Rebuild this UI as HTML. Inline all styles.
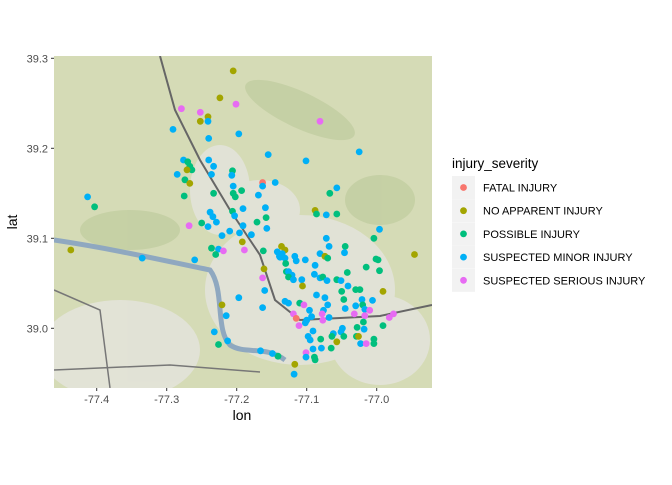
<!DOCTYPE html>
<html><head><meta charset="utf-8">
<style>
body{margin:0;background:#fff;}
svg text{font-family:"Liberation Sans",sans-serif;}
</style></head>
<body>
<svg id="chart" width="672" height="480" xmlns="http://www.w3.org/2000/svg">
<defs><clipPath id="pc"><rect x="54" y="56" width="378" height="332"/></clipPath></defs>
<g id="panel" clip-path="url(#pc)">
  <rect x="54" y="56" width="378" height="332" fill="#d5dbb6"/>
  <g fill="#e4e4dc" opacity="0.85">
    <ellipse cx="300" cy="290" rx="95" ry="75"/>
    <ellipse cx="220" cy="190" rx="30" ry="45"/>
    <ellipse cx="120" cy="350" rx="80" ry="50"/>
    <ellipse cx="380" cy="340" rx="50" ry="45"/>
    <ellipse cx="260" cy="210" rx="40" ry="30"/>
  </g>
  <g fill="#bcc99a" opacity="0.6">
    <ellipse cx="300" cy="110" rx="60" ry="18" transform="rotate(25 300 110)"/>
    <ellipse cx="130" cy="230" rx="50" ry="20"/>
    <ellipse cx="380" cy="200" rx="35" ry="25"/>
  </g>
  <path d="M54 240 C120 250,170 262,210 270 C225 290,215 330,230 345 C245 355,265 345,285 360" stroke="#8fa8c0" stroke-width="5" fill="none"/>
  <path d="M160 56 L175 110 L200 160 L230 210 L260 255 L275 300 L300 320 L380 316 L432 305" stroke="#666" stroke-width="2" fill="none"/>
  <path d="M54 290 L100 310 L110 388 M54 370 L170 365 L260 372" stroke="#777" stroke-width="1.5" fill="none"/>
  <g id="points"></g>
</g>
<g id="axes"></g>
<text x="242" y="420" font-size="14" text-anchor="middle" fill="#000">lon</text>
<text x="17" y="222" font-size="14" text-anchor="middle" fill="#000" transform="rotate(-90 17 222)">lat</text>
<g id="legend">
  <text x="452" y="168" font-size="13.5" fill="#000">injury_severity</text>
</g>
</svg>
<script>
const categories = ["FATAL INJURY","NO APPARENT INJURY","POSSIBLE INJURY","SUSPECTED MINOR INJURY","SUSPECTED SERIOUS INJURY"];
const xTicks = [-77.4,-77.3,-77.2,-77.1,-77.0];
const yTicks = [39.0,39.1,39.2,39.3];
const xTickLabels = ["-77.4","-77.3","-77.2","-77.1","-77.0"];
const yTickLabels = ["39.0","39.1","39.2","39.3"];
const lon = [-77.205,-77.224,-77.201,-77.279,-77.252,-77.241,-77.252,-77.241,-77.291,-77.240,-77.276,-77.267,-77.270,-77.264,-77.240,-77.233,-77.271,-77.285,-77.206,-77.236,-77.207,-77.274,-77.267,-77.205,-77.233,-77.275,-77.205,-77.202,-77.413,-77.403,-77.206,-77.238,-77.234,-77.197,-77.268,-77.250,-77.241,-77.229,-77.203,-77.221,-77.210,-77.437,-77.335,-77.260,-77.236,-77.226,-77.219,-77.230,-77.197,-77.221,-77.215,-77.232,-77.213,-77.226,
-77.081,-77.155,-77.101,-77.025,-77.163,-77.163,-77.145,-77.193,-77.169,-77.057,-77.067,-77.191,-77.159,-77.088,-77.086,-77.072,-77.057,-77.158,
-77.191,-77.196,-77.179,-77.171,-77.157,-77.192,-77.189,-77.162,-77.136,-77.131,-77.142,-77.139,-77.135,-77.138,-77.131,-77.130,-77.117,-77.115,-77.102,-77.161,-77.163,-77.129,-77.126,-77.121,-77.126,-77.119,-77.107,-77.106,-77.160,-77.163,-77.131,-77.126,-77.110,-77.104,-77.096,-77.119,-77.115,-77.100,-77.093,-77.111,-77.102,-77.091,-77.098,-77.095,-77.080,-77.091,-77.079,-77.065,-77.101,-77.101,-77.089,-77.088,-77.117,-77.118,-77.141,-77.149,-77.166,
-77.072,-77.068,-77.045,-77.046,-77.081,-77.074,-77.070,-77.088,-77.089,-77.081,-77.077,-77.071,-77.057,-77.051,-77.042,-77.041,-77.050,-77.086,-77.074,-77.047,-77.070,-77.076,-77.078,-77.077,-77.068,-77.045,-77.030,-77.024,-77.021,-77.006,-77.020,-77.030,-77.017,-77.010,-77.032,-77.017,-77.019,-77.049,-77.051,-77.062,-77.064,-77.057,-77.047,-77.028,-77.018,-77.029,-77.026,-77.023,-77.015,-77.004,-77.004,-76.991,-76.991,-76.982,-76.976,-76.996,-77.004,-77.001,-76.998,-77.015,-76.996,-76.946];
const lat = [39.286,39.256,39.249,39.244,39.240,39.235,39.230,39.230,39.221,39.211,39.187,39.180,39.185,39.176,39.187,39.180,39.176,39.171,39.175,39.171,39.170,39.165,39.161,39.158,39.150,39.147,39.150,39.146,39.146,39.135,39.130,39.129,39.124,39.216,39.114,39.117,39.113,39.118,39.125,39.103,39.108,39.087,39.078,39.076,39.089,39.088,39.086,39.082,39.034,39.026,39.014,38.996,38.986,38.982,
39.230,39.193,39.186,39.196,39.162,39.158,39.162,39.153,39.148,39.156,39.150,39.133,39.134,39.131,39.127,39.126,39.127,39.123,
39.114,39.106,39.104,39.118,39.111,39.096,39.087,39.086,39.091,39.087,39.085,39.080,39.083,39.079,39.078,39.072,39.080,39.075,39.076,39.066,39.056,39.063,39.063,39.059,39.057,39.054,39.054,39.047,39.042,39.023,39.030,39.028,39.028,39.026,39.020,39.016,39.011,39.009,39.013,39.003,39.006,38.997,38.991,38.987,38.988,38.977,38.978,38.978,38.973,38.968,38.968,38.965,38.960,38.949,38.969,38.972,38.975,
39.100,39.091,39.091,39.084,39.083,39.080,39.078,39.070,39.060,39.056,39.057,39.053,39.054,39.053,39.062,39.047,39.041,39.037,39.034,39.032,39.026,39.020,39.016,39.009,39.012,39.022,39.043,39.043,39.032,39.031,39.026,39.025,39.021,39.020,39.016,39.014,39.007,39.000,38.996,38.994,38.991,38.985,38.991,39.001,38.999,38.991,38.991,38.983,38.983,38.988,38.983,39.003,39.041,39.012,39.016,39.110,39.100,39.077,39.076,39.068,39.064,39.082];
const severity = [1,1,4,4,4,1,1,3,3,3,3,2,2,2,3,3,1,3,2,3,3,2,1,3,2,2,2,2,3,2,2,3,3,3,4,2,3,3,3,3,3,1,3,3,2,3,4,2,3,1,3,3,3,2,
4,3,3,3,0,3,3,2,3,3,2,3,3,1,2,3,2,2,
3,3,3,2,3,1,4,2,1,1,3,3,3,3,3,2,3,3,3,1,4,2,3,3,2,3,3,1,3,3,3,3,2,4,3,4,0,3,3,4,3,3,3,3,2,3,3,2,4,3,2,2,1,3,2,3,3,
3,3,2,3,3,1,2,3,3,3,2,3,2,3,2,3,2,3,3,2,3,3,4,4,3,3,2,2,3,3,2,3,3,4,4,4,2,3,3,3,2,1,2,2,3,2,1,3,4,2,2,2,1,4,4,3,2,2,2,2,2,1];
const colors = ["#F8766D","#A3A500","#00BF7D","#00B0F6","#E76BF3"];
const NS="http://www.w3.org/2000/svg";
const xs = v => 96.7 + (v + 77.4) * 700;
const ys = v => 58.3 + (39.3 - v) * 900;
const pts = document.getElementById('points');
// draw by category order so later categories on top like ggplot row order approx
for (let i = 0; i < lon.length; i++) {
  const c = document.createElementNS(NS,'circle');
  c.setAttribute('cx', xs(lon[i])); c.setAttribute('cy', ys(lat[i])); c.setAttribute('r', 3.4);
  c.setAttribute('fill', colors[severity[i]]);
  
  
  pts.appendChild(c);
}
const ax = document.getElementById('axes');
xTicks.forEach((t,i) => {
  const l = document.createElementNS(NS,'line');
  l.setAttribute('x1', xs(t)); l.setAttribute('x2', xs(t)); l.setAttribute('y1', 388); l.setAttribute('y2', 391);
  l.setAttribute('stroke', '#333');
  
  
  ax.appendChild(l);
  const tx = document.createElementNS(NS,'text');
  tx.setAttribute('x', xs(t)); tx.setAttribute('y', 403); tx.setAttribute('font-size', '11');
  tx.setAttribute('text-anchor', 'middle'); tx.setAttribute('fill', '#4d4d4d');
  tx.textContent = xTickLabels[i];
  
  
  ax.appendChild(tx);
});
yTicks.forEach((t,i) => {
  const l = document.createElementNS(NS,'line');
  l.setAttribute('x1', 51); l.setAttribute('x2', 54); l.setAttribute('y1', ys(t)); l.setAttribute('y2', ys(t));
  l.setAttribute('stroke', '#333');
  
  
  ax.appendChild(l);
  const tx = document.createElementNS(NS,'text');
  tx.setAttribute('x', 48); tx.setAttribute('y', ys(t) + 4); tx.setAttribute('font-size', '11');
  tx.setAttribute('text-anchor', 'end'); tx.setAttribute('fill', '#4d4d4d');
  tx.textContent = yTickLabels[i];
  
  
  ax.appendChild(tx);
});
const lg = document.getElementById('legend');
categories.forEach((c,i) => {
  const y0 = 176 + i * 23.2;
  const r = document.createElementNS(NS,'rect');
  r.setAttribute('x', 452); r.setAttribute('y', y0); r.setAttribute('width', 23); r.setAttribute('height', 23); r.setAttribute('fill', '#f2f2f2');
  
  
  lg.appendChild(r);
  const d = document.createElementNS(NS,'circle');
  d.setAttribute('cx', 463.5); d.setAttribute('cy', y0 + 11.5); d.setAttribute('r', 3.4); d.setAttribute('fill', colors[i]);
  
  
  lg.appendChild(d);
  const t = document.createElementNS(NS,'text');
  t.setAttribute('x', 483); t.setAttribute('y', y0 + 15.5); t.setAttribute('font-size', '11'); t.setAttribute('fill', '#000');
  t.textContent = c;
  
  
  lg.appendChild(t);
});
</script>
</body></html>
